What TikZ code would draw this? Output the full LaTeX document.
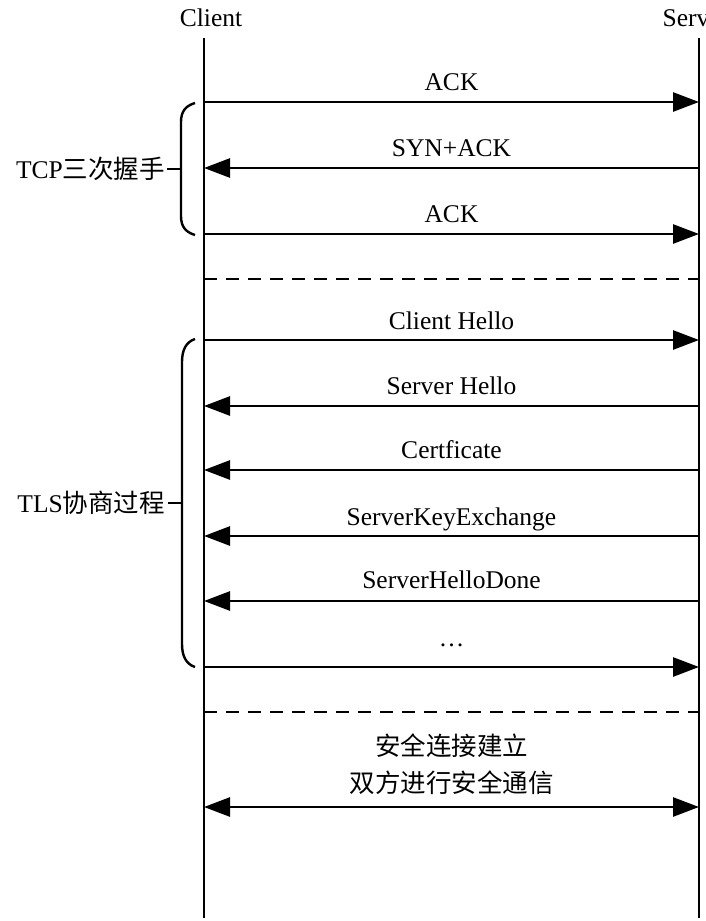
\documentclass[tikz,border=0pt]{standalone}
\usepackage{fontspec}
\setmainfont{Liberation Serif}
\newfontfamily\cjk{Noto Sans CJK SC}
\usetikzlibrary{arrows.meta}
\begin{document}
\begin{tikzpicture}[x=1pt,y=-1pt,
  every node/.style={font=\fontsize{25.5}{30}\selectfont, inner sep=0pt},
  life/.style={line width=2.9pt},
  msg/.style={line width=2.7pt, -{Triangle[length=26pt,width=19pt]}},
  dmsg/.style={line width=2.7pt, {Triangle[length=26pt,width=19pt]}-{Triangle[length=26pt,width=19pt]}},
  sep/.style={line width=1.8pt, dash pattern=on 13pt off 9pt},
  bracepath/.style={line width=2.4pt},
  lbl/.style={anchor=base}]
\useasboundingbox (0,0) rectangle (705,921);
% lifelines
\coordinate (ctop) at (204,38); \coordinate (cbot) at (204,918);
\coordinate (stop) at (699,38); \coordinate (sbot) at (699,918);
\draw[life] (ctop) -- (cbot);
\draw[life] (stop) -- (sbot);
\node[lbl] (clientlbl) at (211,26) {Client};
\node[lbl] (serverlbl) at (696,26) {Server};
% messages
\foreach \n/\y in {1/102,2/168,3/234,4/340,5/406,6/470,7/536,8/601,9/667,10/807}{
  \coordinate (c\n) at (204,\y); \coordinate (s\n) at (699,\y);
}
\draw[msg] (c1) -- (s1); \node[lbl] (l1) at (451.5,90) {ACK};
\draw[msg] (s2) -- (c2); \node[lbl] (l2) at (451.5,156) {SYN+ACK};
\draw[msg] (c3) -- (s3); \node[lbl] (l3) at (451.5,222) {ACK};
\draw[msg] (c4) -- (s4); \node[lbl] (l4) at (451.5,329) {Client Hello};
\draw[msg] (s5) -- (c5); \node[lbl] (l5) at (451.5,394) {Server Hello};
\draw[msg] (s6) -- (c6); \node[lbl] (l6) at (451.5,458) {Certficate};
\draw[msg] (s7) -- (c7); \node[lbl] (l7) at (451.5,525) {ServerKeyExchange};
\draw[msg] (s8) -- (c8); \node[lbl] (l8) at (451.5,588) {ServerHelloDone};
\draw[msg] (c9) -- (s9); \node[lbl] (l9) at (451.5,646) {…};
\draw[dmsg] (c10) -- (s10);
\node[lbl] (l10a) at (451.5,755) {\cjk 安全连接建立};
\node[lbl] (l10b) at (451.5,792) {\cjk 双方进行安全通信};
% separators
\coordinate (d1a) at (204,279); \coordinate (d1b) at (699,279);
\coordinate (d2a) at (204,712); \coordinate (d2b) at (699,712);
\draw[sep] (d1a) -- (d1b);
\draw[sep] (d2a) -- (d2b);
% braces
\coordinate (b1t) at (195,103); \coordinate (b1b) at (195,235);
\coordinate (b1m) at (181,169); \coordinate (b1tip) at (167,169);
\draw[bracepath] (b1t) .. controls (185,106) and (181,112) .. (181,122) -- (181,216) .. controls (181,226) and (185,232) .. (b1b);
\draw[bracepath] (b1m) -- (b1tip);
\node[anchor=east] (tcplbl) at (165,169) {TCP\cjk 三次握手};
\coordinate (b2t) at (195,339); \coordinate (b2b) at (195,667);
\coordinate (b2m) at (182,503); \coordinate (b2tip) at (168,503);
\draw[bracepath] (b2t) .. controls (186,342) and (182,350) .. (182,362) -- (182,644) .. controls (182,656) and (186,664) .. (b2b);
\draw[bracepath] (b2m) -- (b2tip);
\node[anchor=east] (tlslbl) at (165,503) {TLS\cjk 协商过程};
\end{tikzpicture}
\end{document}
